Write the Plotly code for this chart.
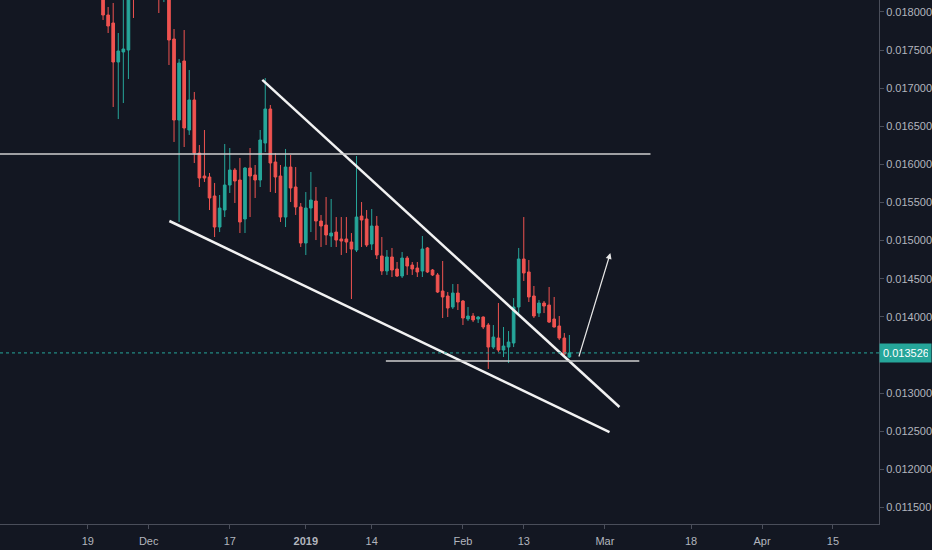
import pandas as pd
import plotly.graph_objects as go

# daily candles, 22 Nov 2018 -> 22 Feb 2019
dates = pd.date_range("2018-11-22", "2019-02-22", freq="D")

opens = [
    0.018223, 0.017960, 0.017855, 0.017343, 0.017475, 0.017501, 0.018450, 0.018250, 0.018600, 0.018450,
    0.018350, 0.018300, 0.018220, 0.018350, 0.017645, 0.016582, 0.017357, 0.016451, 0.016845, 0.016149,
    0.015847, 0.015834, 0.015585, 0.015178, 0.015401, 0.015729, 0.015926, 0.015795, 0.015283, 0.015952,
    0.015861, 0.015795, 0.016280, 0.016727, 0.016031, 0.015847, 0.015309, 0.015965, 0.015703, 0.015441,
    0.014968, 0.015427, 0.015519, 0.015257, 0.015204, 0.015060, 0.015112, 0.015021, 0.015021, 0.014981,
    0.014876, 0.015322, 0.015283, 0.014955, 0.015191, 0.014798, 0.014601, 0.014785, 0.014627, 0.014535,
    0.014771, 0.014679, 0.014640, 0.014601, 0.014903, 0.014614, 0.014549, 0.014338, 0.014273, 0.014128,
    0.014312, 0.014207, 0.013971, 0.014010, 0.013971, 0.013997, 0.013892, 0.013603, 0.013721, 0.013564,
    0.013603, 0.013656, 0.014128, 0.014758, 0.014588, 0.014273, 0.014049, 0.014181, 0.014154, 0.013971,
    0.013879, 0.013721, 0.013472,
]
highs = [
    0.018288, 0.018065, 0.018118, 0.017724, 0.018223, 0.018500, 0.018900, 0.018800, 0.018950, 0.018700,
    0.018600, 0.018550, 0.018600, 0.018450, 0.017776, 0.017383, 0.017763, 0.017238, 0.016950, 0.016254,
    0.016451, 0.015887, 0.015756, 0.015598, 0.016267, 0.016215, 0.015952, 0.016084, 0.015965, 0.016215,
    0.015992, 0.016451, 0.017133, 0.016779, 0.016149, 0.015992, 0.016202, 0.016123, 0.015965, 0.015493,
    0.015637, 0.015900, 0.015703, 0.015336, 0.015572, 0.015546, 0.015309, 0.015309, 0.015309, 0.015099,
    0.016110, 0.015506, 0.015401, 0.015414, 0.015322, 0.015047, 0.014876, 0.014903, 0.014719, 0.014850,
    0.014798, 0.014719, 0.014719, 0.015060, 0.014916, 0.014627, 0.014575, 0.014732, 0.014325, 0.014430,
    0.014430, 0.014220, 0.014128, 0.014049, 0.014010, 0.014005, 0.013918, 0.013892, 0.014181, 0.013866,
    0.013813, 0.014246, 0.014903, 0.015309, 0.014745, 0.014404, 0.014220, 0.014207, 0.014391, 0.014260,
    0.014010, 0.013787, 0.013761,
]
lows = [
    0.017895, 0.017724, 0.016753, 0.016595, 0.016805, 0.017120, 0.017921, 0.018200, 0.018300, 0.018220,
    0.018200, 0.017986, 0.018130, 0.017304, 0.016294, 0.015244, 0.016228, 0.016386, 0.016018, 0.015703,
    0.015769, 0.015401, 0.015047, 0.015112, 0.015309, 0.015624, 0.015493, 0.015099, 0.015099, 0.015309,
    0.015559, 0.015703, 0.016162, 0.015637, 0.015624, 0.015244, 0.015178, 0.015506, 0.015336, 0.014916,
    0.014811, 0.015112, 0.015007, 0.014916, 0.014942, 0.014916, 0.014916, 0.014811, 0.014837, 0.014233,
    0.014850, 0.014916, 0.014916, 0.014876, 0.014758, 0.014549, 0.014549, 0.014522, 0.014522, 0.014509,
    0.014549, 0.014549, 0.014522, 0.014522, 0.014575, 0.014535, 0.014312, 0.013984, 0.013997, 0.014102,
    0.014089, 0.013892, 0.013945, 0.013931, 0.013918, 0.013839, 0.013315, 0.013577, 0.013538, 0.013472,
    0.013393, 0.013603, 0.014049, 0.014470, 0.014194, 0.013984, 0.013997, 0.014049, 0.013918, 0.013860,
    0.013695, 0.013472, 0.013459,
]
closes = [
    0.017960, 0.017816, 0.017343, 0.017488, 0.017514, 0.018419, 0.018250, 0.018600, 0.018450, 0.018350,
    0.018300, 0.018220, 0.018400, 0.017632, 0.016582, 0.017330, 0.016477, 0.016845, 0.016149, 0.015821,
    0.015821, 0.015559, 0.015178, 0.015427, 0.015729, 0.015926, 0.015782, 0.015244, 0.015952, 0.015847,
    0.015795, 0.016320, 0.016727, 0.016018, 0.015834, 0.015309, 0.015965, 0.015690, 0.015441, 0.014968,
    0.015427, 0.015532, 0.015257, 0.015191, 0.015073, 0.015099, 0.015007, 0.014994, 0.014981, 0.014889,
    0.015309, 0.015270, 0.014942, 0.015191, 0.014811, 0.014601, 0.014785, 0.014614, 0.014535, 0.014771,
    0.014666, 0.014627, 0.014588, 0.014889, 0.014588, 0.014549, 0.014325, 0.014260, 0.014115, 0.014312,
    0.014194, 0.013984, 0.014010, 0.013958, 0.013997, 0.013866, 0.013603, 0.013734, 0.013564, 0.013616,
    0.013669, 0.014128, 0.014758, 0.014575, 0.014260, 0.014010, 0.014181, 0.014141, 0.013931, 0.013866,
    0.013721, 0.013511, 0.013526,
]

last_price = 0.013526
resistance = 0.016137
support = 0.013420

price_ticks = [0.0115, 0.012, 0.0125, 0.013, 0.014, 0.0145, 0.015, 0.0155,
               0.016, 0.0165, 0.017, 0.0175, 0.018]
date_ticks = ["2018-11-19", "2018-12-01", "2018-12-17", "2019-01-01", "2019-01-14",
              "2019-02-01", "2019-02-13", "2019-03-01", "2019-03-18", "2019-04-01",
              "2019-04-15"]
date_labels = ["19", "Dec", "17", "<b>2019</b>", "14", "Feb", "13", "Mar", "18", "Apr", "15"]

BG = "#131722"
UP = "#26a69a"
DOWN = "#ef5350"
TXT = "#b2b5be"
X_START, X_END = "2018-11-01 16:00", "2019-04-24 02:00"

fig = go.Figure()
fig.add_trace(go.Candlestick(
    x=dates, open=opens, high=highs, low=lows, close=closes,
    increasing=dict(line=dict(color=UP, width=1), fillcolor=UP),
    decreasing=dict(line=dict(color=DOWN, width=1), fillcolor=DOWN),
    hoverinfo="skip", showlegend=False,
))

white = dict(color="#f2f2f2", width=2.5)
thin = dict(color="#cfcfcf", width=1.5)
fig.update_layout(shapes=[
    # falling wedge
    dict(type="line", x0="2018-12-23 10:00", y0=0.017108, x1="2019-03-03 21:00", y1=0.012816, line=white),
    dict(type="line", x0="2018-12-05 02:00", y0=0.015257, x1="2019-03-01 22:00", y1=0.012488, line=white),
    # horizontal levels
    dict(type="line", x0=X_START, y0=resistance, x1="2019-03-10 00:00", y1=resistance, line=thin),
    dict(type="line", x0="2019-01-16 19:00", y0=support, x1="2019-03-07 19:00", y1=support, line=thin),
    # last price
    dict(type="line", xref="paper", x0=0, x1=1, y0=last_price, y1=last_price,
         line=dict(color=UP, width=1, dash="dot")),
])

fig.add_annotation(x="2019-03-02 02:00", y=0.014837, ax="2019-02-23 19:00", ay=0.013459,
                   axref="x", ayref="y", text="", showarrow=True,
                   arrowhead=2, arrowsize=1, arrowwidth=1.2, arrowcolor="#e6e6e6")
fig.add_annotation(xref="paper", x=1, xanchor="left", y=last_price, yref="y",
                   text="0.013526", showarrow=False, bgcolor=UP, borderpad=3,
                   width=45, align="left", font=dict(color="#ffffff", size=11))

fig.update_layout(
    width=932, height=550,
    margin=dict(l=0, r=51, t=0, b=26),
    paper_bgcolor=BG, plot_bgcolor=BG,
    boxgap=0.25,
    font=dict(family="Liberation Sans", size=11, color=TXT),
    xaxis=dict(
        range=[X_START, X_END], rangeslider=dict(visible=False),
        tickvals=date_ticks, ticktext=date_labels,
        showgrid=False, zeroline=False, showline=True, linecolor="#4a4e5a",
        ticks="outside", ticklen=4, tickcolor="#4a4e5a", ticklabelstandoff=3,
    ),
    yaxis=dict(
        side="right", range=[0.011281, 0.018157],
        tickvals=price_ticks, tickformat=".6f",
        showgrid=False, zeroline=False, showline=True, linecolor="#4a4e5a",
        ticks="outside", ticklen=4, tickcolor="#4a4e5a",
    ),
)

# drop the browser's default body margin so the 932x550 figure fills the window
fig.write_html("out.html", config={"displayModeBar": False},
               post_script="document.body.style.margin='0';")
